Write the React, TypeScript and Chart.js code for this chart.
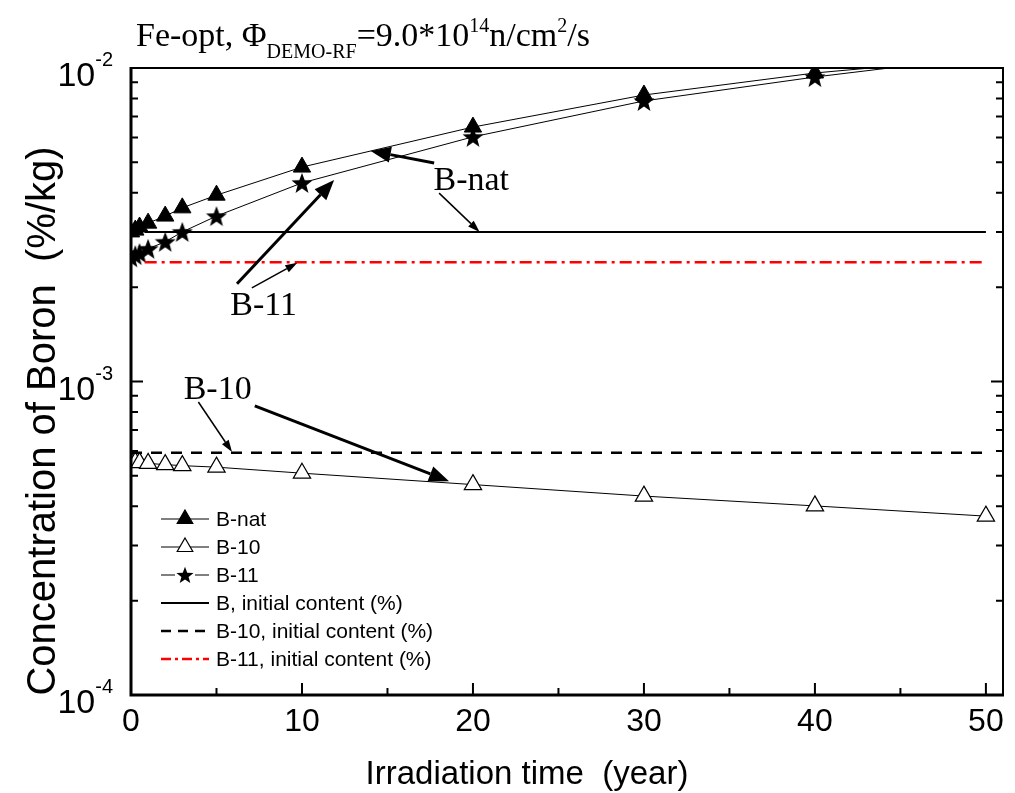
import React, { useEffect, useRef } from "react";
import { Chart, registerables } from "chart.js";
Chart.register(...registerables);

// ---------- data ----------
const years = [0, 0.25, 0.5, 1, 2, 3, 5, 10, 20, 30, 40, 50];
const bNat = [3.0e-3, 3.04e-3, 3.11e-3, 3.2e-3, 3.37e-3, 3.58e-3, 3.93e-3, 4.83e-3, 6.48e-3, 8.2e-3, 9.64e-3, 1.08e-2];
const b10 = [5.55e-4, 5.53e-4, 5.51e-4, 5.48e-4, 5.43e-4, 5.39e-4, 5.33e-4, 5.1e-4, 4.69e-4, 4.31e-4, 4.01e-4, 3.72e-4];
const b11 = [2.49e-3, 2.53e-3, 2.57e-3, 2.65e-3, 2.79e-3, 3.0e-3, 3.37e-3, 4.3e-3, 6.03e-3, 7.85e-3, 9.36e-3, 1.09e-2];
const initialYearsSolid = [0.8, 50];
const initialYearsDashed = [0, 50];
const bInitial = [3.0e-3, 3.0e-3];
const b10Initial = [5.93e-4, 5.93e-4];
const b11Initial = [2.4e-3, 2.4e-3];

const xMajorTicks = [0, 10, 20, 30, 40, 50];
const xMinorTicks = [5, 15, 25, 35, 45];
const yExponents = [-2, -3, -4];
const yMinorMultipliers = [2, 3, 4, 5, 6, 7, 8, 9];

const legendLabels = [
  "B-nat",
  "B-10",
  "B-11",
  "B, initial content (%)",
  "B-10, initial content (%)",
  "B-11, initial content (%)",
];

// annotations (data units)
const labelTexts = ["B-nat", "B-11", "B-10"];
const labelX = [19.9, 7.76, 5.07];
const labelY = [4.08e-3, 1.63e-3, 8.79e-4];
const arrowFromX = [17.73, 18.02, 6.2, 7.07, 3.94, 7.24];
const arrowFromY = [4.98e-3, 3.99e-3, 2.05e-3, 1.99e-3, 8.6e-4, 8.36e-4];
const arrowToX = [14.02, 20.39, 11.88, 9.73, 5.91, 18.6];
const arrowToY = [5.44e-3, 3.0e-3, 4.39e-3, 2.39e-3, 5.96e-4, 4.81e-4];
const arrowThick = [true, false, true, false, false, true];

const SERIF = '"Liberation Serif", "Times New Roman", serif';
const SANS = '"Liberation Sans", Arial, sans-serif';

function makeStar(size: number) {
  const c = document.createElement("canvas");
  c.width = size;
  c.height = size;
  const g = c.getContext("2d")!;
  const R = size / 2;
  const r = R * 0.42;
  const cy = R + R * 0.09;
  g.beginPath();
  for (let i = 0; i < 10; i++) {
    const a = -Math.PI / 2 + (i * Math.PI) / 5;
    const rr = i % 2 ? r : R;
    g.lineTo(R + rr * Math.cos(a), cy + rr * Math.sin(a));
  }
  g.closePath();
  g.fillStyle = "#000";
  g.fill();
  return c;
}

function arrow(ctx: CanvasRenderingContext2D, x1: number, y1: number, x2: number, y2: number, lw: number, hl: number, hw: number) {
  const ang = Math.atan2(y2 - y1, x2 - x1);
  const bx = x2 - hl * Math.cos(ang);
  const by = y2 - hl * Math.sin(ang);
  ctx.lineWidth = lw;
  ctx.beginPath();
  ctx.moveTo(x1, y1);
  ctx.lineTo(bx, by);
  ctx.stroke();
  ctx.beginPath();
  ctx.moveTo(x2, y2);
  ctx.lineTo(bx - hw * Math.sin(ang), by + hw * Math.cos(ang));
  ctx.lineTo(bx + hw * Math.sin(ang), by - hw * Math.cos(ang));
  ctx.closePath();
  ctx.fill();
}

export default function App() {
  const ref = useRef<HTMLCanvasElement>(null);
  useEffect(() => {
    const star = makeStar(22);
    const legendStar = makeStar(18);

    const overlay = {
      id: "overlay",
      afterDatasetsDraw(chart: any) {
        const { ctx, chartArea: a, scales } = chart;
        const x = scales.x;
        const y = scales.y;
        ctx.save();
        ctx.strokeStyle = "#000";
        ctx.fillStyle = "#000";
        ctx.lineCap = "butt";

        // frame
        ctx.lineWidth = 2;
        ctx.beginPath();
        ctx.moveTo(a.left, a.top);
        ctx.lineTo(a.right, a.top);
        ctx.lineTo(a.right, a.bottom);
        ctx.stroke();
        ctx.lineWidth = 3;
        ctx.beginPath();
        ctx.moveTo(a.left, a.top - 1);
        ctx.lineTo(a.left, a.bottom);
        ctx.lineTo(a.right + 1, a.bottom);
        ctx.stroke();

        // x ticks (inward)
        ctx.lineWidth = 2;
        xMajorTicks.forEach((v) => {
          const px = x.getPixelForValue(v);
          ctx.beginPath();
          ctx.moveTo(px, a.bottom);
          ctx.lineTo(px, a.bottom - 12);
          ctx.stroke();
        });
        xMinorTicks.forEach((v) => {
          const px = x.getPixelForValue(v);
          ctx.beginPath();
          ctx.moveTo(px, a.bottom);
          ctx.lineTo(px, a.bottom - 7);
          ctx.stroke();
        });
        // y ticks (inward, both sides)
        yExponents.forEach((e) => {
          const py = y.getPixelForValue(Math.pow(10, e));
          ctx.beginPath();
          ctx.moveTo(a.left, py);
          ctx.lineTo(a.left + 12, py);
          ctx.moveTo(a.right, py);
          ctx.lineTo(a.right - 12, py);
          ctx.stroke();
        });
        [-3, -4].forEach((e) => {
          yMinorMultipliers.forEach((m) => {
            const py = y.getPixelForValue(m * Math.pow(10, e));
            ctx.beginPath();
            ctx.moveTo(a.left, py);
            ctx.lineTo(a.left + 7, py);
            ctx.moveTo(a.right, py);
            ctx.lineTo(a.right - 7, py);
            ctx.stroke();
          });
        });

        // x tick labels
        ctx.font = `32px ${SANS}`;
        ctx.textAlign = "center";
        ctx.textBaseline = "alphabetic";
        xMajorTicks.forEach((v) => {
          ctx.fillText(String(v), x.getPixelForValue(v), a.bottom + 36);
        });
        // y tick labels 10^e
        yExponents.forEach((e) => {
          const py = y.getPixelForValue(Math.pow(10, e));
          ctx.font = `20px ${SANS}`;
          const supW = ctx.measureText(String(e)).width;
          ctx.textAlign = "right";
          ctx.fillText(String(e), a.left - 18, py - 2);
          ctx.font = `34px ${SANS}`;
          ctx.fillText("10", a.left - 18 - supW, py + 18);
        });

        // axis titles
        ctx.font = `33px ${SANS}`;
        ctx.textAlign = "center";
        ctx.fillText("Irradiation time  (year)", (a.left + a.right) / 2 - 40, 784);
        ctx.save();
        ctx.translate(55, 421);
        ctx.rotate(-Math.PI / 2);
        ctx.font = `40px ${SANS}`;
        ctx.fillText("Concentration of Boron  (%/kg)", 0, 0);
        ctx.restore();

        // title with sub/superscripts
        const segs: [string, number, number][] = [
          ["Fe-opt, \u03A6", 34, 0],
          ["DEMO-RF", 20, 12],
          ["=9.0*10", 34, 0],
          ["14", 20, -14],
          ["n/cm", 34, 0],
          ["2", 20, -14],
          ["/s", 34, 0],
        ];
        let tx = 136;
        ctx.textAlign = "left";
        segs.forEach(([t, s, dy]) => {
          ctx.font = `${s}px ${SERIF}`;
          ctx.fillText(t, tx, 46 + dy);
          tx += ctx.measureText(t).width;
        });

        // annotations
        ctx.font = `34px ${SERIF}`;
        ctx.textAlign = "center";
        labelTexts.forEach((t, i) => {
          ctx.fillText(t, x.getPixelForValue(labelX[i]), y.getPixelForValue(labelY[i]));
        });
        arrowFromX.forEach((fx, i) => {
          const thick = arrowThick[i];
          arrow(
            ctx,
            x.getPixelForValue(fx),
            y.getPixelForValue(arrowFromY[i]),
            x.getPixelForValue(arrowToX[i]),
            y.getPixelForValue(arrowToY[i]),
            thick ? 3 : 1.5,
            thick ? 20 : 12,
            thick ? 8 : 4
          );
        });

        // legend
        const lx0 = 161;
        const lx1 = 209;
        const rowY0 = 519;
        const rowH = 28;
        ctx.font = `21px ${SANS}`;
        ctx.textAlign = "left";
        ctx.textBaseline = "middle";
        legendLabels.forEach((lab, i) => {
          const ry = rowY0 + i * rowH;
          ctx.save();
          if (i < 3) {
            ctx.lineWidth = 1;
            ctx.beginPath();
            ctx.moveTo(lx0, ry);
            ctx.lineTo(lx1, ry);
            ctx.stroke();
            const cx = (lx0 + lx1) / 2;
            if (i === 2) {
              ctx.fillStyle = "#fff";
              ctx.fillRect(cx - 10, ry - 9, 20, 18);
              ctx.drawImage(legendStar, cx - 9, ry - 9);
            } else {
              const r = 9;
              ctx.beginPath();
              ctx.moveTo(cx, ry - r);
              ctx.lineTo(cx + r * 0.866, ry + r * 0.5);
              ctx.lineTo(cx - r * 0.866, ry + r * 0.5);
              ctx.closePath();
              ctx.fillStyle = i === 0 ? "#000" : "#fff";
              ctx.fill();
              ctx.lineWidth = 1.2;
              ctx.stroke();
            }
          } else {
            ctx.lineWidth = i === 3 ? 2 : 2.5;
            if (i === 4) ctx.setLineDash([10, 7]);
            if (i === 5) {
              ctx.strokeStyle = "#ff0000";
              ctx.setLineDash([10, 4, 3, 4]);
            }
            ctx.beginPath();
            ctx.moveTo(lx0, ry);
            ctx.lineTo(lx1, ry);
            ctx.stroke();
          }
          ctx.restore();
          ctx.fillStyle = "#000";
          ctx.fillText(lab, 216, ry + 1);
        });

        ctx.restore();
      },
    };

    const toPts = (xs: number[], ys: number[]) => xs.map((v, i) => ({ x: v, y: ys[i] }));

    const chart = new Chart(ref.current!, {
      type: "line",
      data: {
        datasets: [
          {
            label: "B, initial content (%)",
            data: toPts(initialYearsSolid, bInitial),
            borderColor: "#000",
            borderWidth: 2,
            pointRadius: 0,
          },
          {
            label: "B-10, initial content (%)",
            data: toPts(initialYearsDashed, b10Initial),
            borderColor: "#000",
            borderWidth: 2.5,
            borderDash: [11, 9],
            pointRadius: 0,
          },
          {
            label: "B-11, initial content (%)",
            data: toPts(initialYearsSolid, b11Initial),
            borderColor: "#ff0000",
            borderWidth: 2.5,
            borderDash: [12, 5, 3, 5],
            pointRadius: 0,
          },
          {
            label: "B-nat",
            data: toPts(years, bNat),
            borderColor: "#000",
            borderWidth: 1,
            pointStyle: "triangle",
            pointRadius: 10,
            pointBackgroundColor: "#000",
            pointBorderColor: "#000",
            pointBorderWidth: 1,
          },
          {
            label: "B-10",
            data: toPts(years, b10),
            borderColor: "#000",
            borderWidth: 1,
            pointStyle: "triangle",
            pointRadius: 10,
            pointBackgroundColor: "#fff",
            pointBorderColor: "#000",
            pointBorderWidth: 1.2,
          },
          {
            label: "B-11",
            data: toPts(years, b11),
            borderColor: "#000",
            borderWidth: 1,
            pointStyle: star as any,
            pointRadius: 11,
          },
        ],
      },
      options: {
        responsive: false,
        animation: false,
        events: [],
        layout: { padding: { left: 131, right: 4, top: 68, bottom: 98 } },
        plugins: { legend: { display: false }, tooltip: { enabled: false }, title: { display: false } },
        scales: {
          x: {
            type: "linear",
            min: 0,
            max: 51,
            grid: { display: false },
            border: { display: false },
            ticks: { display: false },
            afterFit: (s: any) => {
              s.height = 0;
            },
          },
          y: {
            type: "logarithmic",
            min: 1e-4,
            max: 1e-2,
            grid: { display: false },
            border: { display: false },
            ticks: { display: false },
            afterFit: (s: any) => {
              s.width = 0;
            },
          },
        },
      },
      plugins: [overlay],
    });
    return () => chart.destroy();
  }, []);

  return (
    <div style={{ position: "absolute", left: 0, top: 0, width: 1015, height: 793, background: "#fff" }}>
      <canvas ref={ref} width={1015} height={793} style={{ width: 1015, height: 793, display: "block" }} />
    </div>
  );
}
